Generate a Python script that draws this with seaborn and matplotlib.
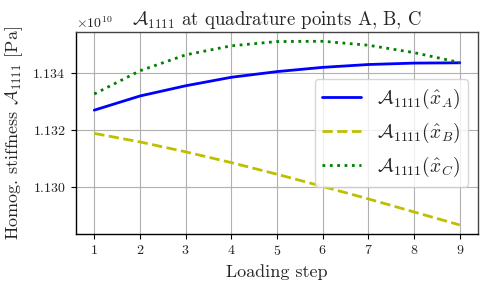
import numpy as np
import pandas as pd
import matplotlib
matplotlib.use("Agg")
import matplotlib.pyplot as plt
import seaborn as sns
from matplotlib.ticker import MultipleLocator

steps = [1, 2, 3, 4, 5, 6, 7, 8, 9]
a_A = [1.13270, 1.13320, 1.13356, 1.13386, 1.13406, 1.13421, 1.13431, 1.13436, 1.13437]
a_B = [1.13188, 1.13158, 1.13123, 1.13085, 1.13044, 1.13001, 1.12957, 1.12911, 1.12865]
a_C = [1.13327, 1.13409, 1.13465, 1.13497, 1.13512, 1.13513, 1.13499, 1.13473, 1.13438]
scale = 1e10
labels = [r"$\mathcal{A}_{1111}(\hat{x}_A)$",
          r"$\mathcal{A}_{1111}(\hat{x}_B)$",
          r"$\mathcal{A}_{1111}(\hat{x}_C)$"]
colors = ["#0000ff", "#bfbf00", "#008000"]
styles = ["-", "--", ":"]

sns.set_theme(style="whitegrid")
plt.rcParams.update({
    "font.family": "serif",
    "font.serif": ["cmr10"],
    "mathtext.fontset": "cm",
    "axes.formatter.use_mathtext": True,
    "axes.unicode_minus": False,
})

fig = plt.figure(figsize=(4.88, 2.89), dpi=100)
ax = fig.add_axes([76/488, 1-234/289, (478-76)/488, (234-32)/289])

for vals, lab, c, ls in zip([a_A, a_B, a_C], labels, colors, styles):
    df = pd.DataFrame({"step": steps, "val": np.array(vals) * scale})
    sns.lineplot(data=df, x="step", y="val", ax=ax, color=c, linestyle=ls,
                 linewidth=2, label=lab)

ax.set_xlim(0.6, 9.4)
ax.set_ylim(1.128332e10, 1.135457e10)
ax.xaxis.set_major_locator(MultipleLocator(1))
ax.yaxis.set_major_locator(MultipleLocator(0.002e10))
ax.ticklabel_format(axis="y", style="sci", scilimits=(0, 0), useOffset=False)
ax.yaxis.get_offset_text().set_fontsize(10)
ax.yaxis.get_offset_text().set_color("#444444")

ax.grid(True, color="#b0b0b0", linewidth=0.8)
for s in ["left", "bottom"]:
    ax.spines[s].set_color("black")
    ax.spines[s].set_linewidth(1.0)
for s in ["top", "right"]:
    ax.spines[s].set_color("#444444")
    ax.spines[s].set_linewidth(1.0)
ax.tick_params(axis="both", which="major", labelsize=10, length=3.5, width=0.8,
               color="black", labelcolor="#222222", bottom=True, left=True, pad=4)

ax.set_xlabel("Loading step", fontsize=13, labelpad=4)
ax.set_ylabel(r"Homog. stiffness $\mathcal{A}_{1111}$ [Pa]", fontsize=13, labelpad=5)
ax.set_title(r"$\mathcal{A}_{1111}$ at quadrature points A, B, C", fontsize=13.5, pad=5)

leg = ax.legend(loc="center right", fontsize=14, frameon=True, framealpha=0.8,
                edgecolor="#cccccc", handlelength=2.0)
fig.savefig("out.png", dpi=100)
